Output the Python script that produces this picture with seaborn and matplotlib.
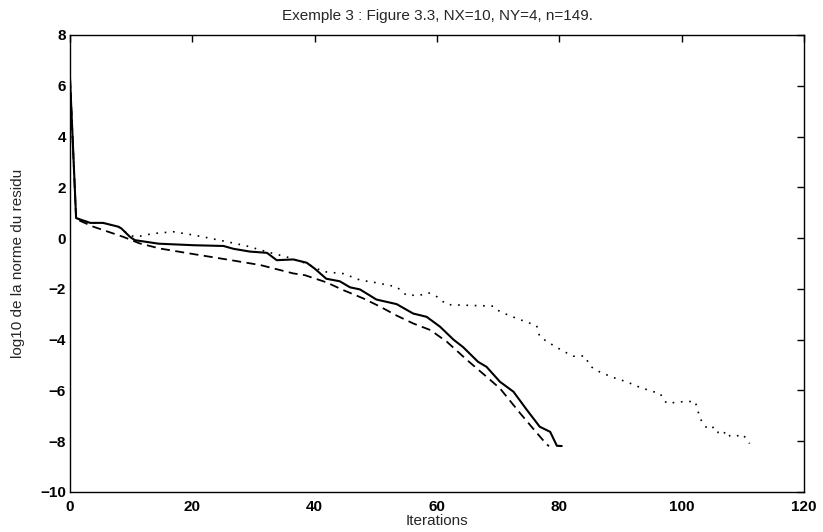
import matplotlib
matplotlib.use("Agg")
import matplotlib.pyplot as plt
import seaborn as sns
import pandas as pd

# ---- data ----
solid_x = [0, 1, 3.3, 5.4, 7.9, 8.4, 9.8, 10.6, 14.5, 20.2, 25.1, 26.7, 29.4, 32.2,
           33.8, 36.5, 38.7, 40.0, 41.9, 44.1, 45.8, 47.4, 50.1, 53.4, 56.1, 58.3,
           60.5, 62.7, 64.3, 66.7, 68.1, 70.3, 72.5, 74.7, 76.8, 78.5, 79.6, 80.4]
solid_y = [6.3, 0.79, 0.6, 0.6, 0.45, 0.38, 0.05, -0.08, -0.22, -0.28, -0.31, -0.42,
           -0.53, -0.58, -0.87, -0.84, -0.97, -1.2, -1.6, -1.7, -1.94, -2.02, -2.42,
           -2.6, -2.97, -3.1, -3.49, -4.0, -4.3, -4.87, -5.07, -5.66, -6.05, -6.77,
           -7.43, -7.63, -8.18, -8.19]

dashed_x = [0, 1, 3.8, 8.7, 11.4, 14.7, 20.2, 25.6, 31.1, 36.5, 38.4, 41.9, 44.7,
            48.0, 50.7, 53.4, 56.1, 58.9, 61.6, 64.9, 68.1, 70.3, 73.6, 75.7, 77.7, 78.3]
dashed_y = [6.3, 0.75, 0.45, 0.05, -0.21, -0.41, -0.63, -0.84, -1.06, -1.39, -1.46,
            -1.74, -2.05, -2.38, -2.7, -3.05, -3.36, -3.62, -4.08, -4.8, -5.46, -5.92,
            -6.9, -7.5, -8.06, -8.2]

dotted_x = [0, 1, 3.3, 5.4, 7.9, 9.8, 10.9, 13.6, 16.9, 20.2, 23.0, 25.6, 28.9, 32.2,
            35.4, 38.7, 41.4, 44.7, 47.4, 50.1, 53.4, 55.0, 57.2, 58.6, 60.0, 61.6,
            69.2, 70.3, 73.0, 76.3, 76.8, 78.5, 80.6, 82.3, 84.2, 85.0, 86.6, 88.8,
            91.0, 93.2, 95.4, 96.5, 97.0, 97.6, 99.7, 102.2, 102.5, 103.0, 103.6,
            104.3, 105.4, 106.0, 106.5, 107.4, 107.9, 109.0, 109.8, 110.6, 111.1]
dotted_y = [6.3, 0.79, 0.6, 0.6, 0.45, 0.1, 0.05, 0.18, 0.25, 0.12, -0.01, -0.14,
            -0.31, -0.54, -0.74, -1.0, -1.32, -1.4, -1.65, -1.76, -1.92, -2.25, -2.25,
            -2.15, -2.31, -2.62, -2.68, -2.9, -3.16, -3.45, -3.89, -4.15, -4.45, -4.65,
            -4.64, -5.04, -5.27, -5.49, -5.66, -5.88, -6.05, -6.12, -6.35, -6.51, -6.45,
            -6.43, -6.67, -7.1, -7.33, -7.53, -7.43, -7.67, -7.76, -7.6, -7.8, -7.8,
            -7.72, -7.89, -8.09]

x_ticks = [0, 20, 40, 60, 80, 100, 120]
y_ticks = [-10, -8, -6, -4, -2, 0, 2, 4, 6, 8]
title = "Exemple 3 : Figure 3.3, NX=10, NY=4, n=149."
xlabel = "Iterations"
ylabel = "log10 de la norme du residu"

# ---- build long table ----
frames = []
for name, xs, ys in [("solid", solid_x, solid_y),
                     ("dashed", dashed_x, dashed_y),
                     ("dotted", dotted_x, dotted_y)]:
    frames.append(pd.DataFrame({"x": xs, "y": ys, "series": name}))
df = pd.concat(frames, ignore_index=True)

sns.set_style("white")
plt.rcParams["font.family"] = ["Liberation Sans", "DejaVu Sans"]

fig = plt.figure(figsize=(8.23, 5.32), dpi=100)
ax = fig.add_axes([70 / 823, 1 - 492 / 532, (804 - 70) / 823, (492 - 35) / 532])

sns.lineplot(data=df, x="x", y="y", hue="series", style="series",
             palette={"solid": "black", "dashed": "black", "dotted": "black"},
             dashes={"solid": "", "dashed": (5, 3), "dotted": (1, 4)},
             estimator=None, sort=False, legend=False, ax=ax)

widths = {0: 1.5, 1: 1.3, 2: 1.2}
for i, ln in enumerate(ax.lines):
    ln.set_linewidth(widths.get(i, 1.2))

ax.set_xlim(0, 120)
ax.set_ylim(-10, 8)
ax.set_xticks(x_ticks)
ax.set_yticks(y_ticks)
ax.tick_params(direction="in", length=5, width=1, top=True, right=True,
               labelsize=11, colors="black")
ax.tick_params(axis="x", pad=6)
ax.tick_params(axis="y", pad=3)
for lab in ax.get_xticklabels() + ax.get_yticklabels():
    lab.set_fontweight("bold")
for sp in ax.spines.values():
    sp.set_visible(True)
    sp.set_color("black")
    sp.set_linewidth(1.0)

ax.set_title(title, fontsize=11, pad=11)
ax.set_xlabel(xlabel, fontsize=11, labelpad=0)
ax.set_ylabel(ylabel, fontsize=11, labelpad=11)

fig.savefig("out.png", dpi=100)
